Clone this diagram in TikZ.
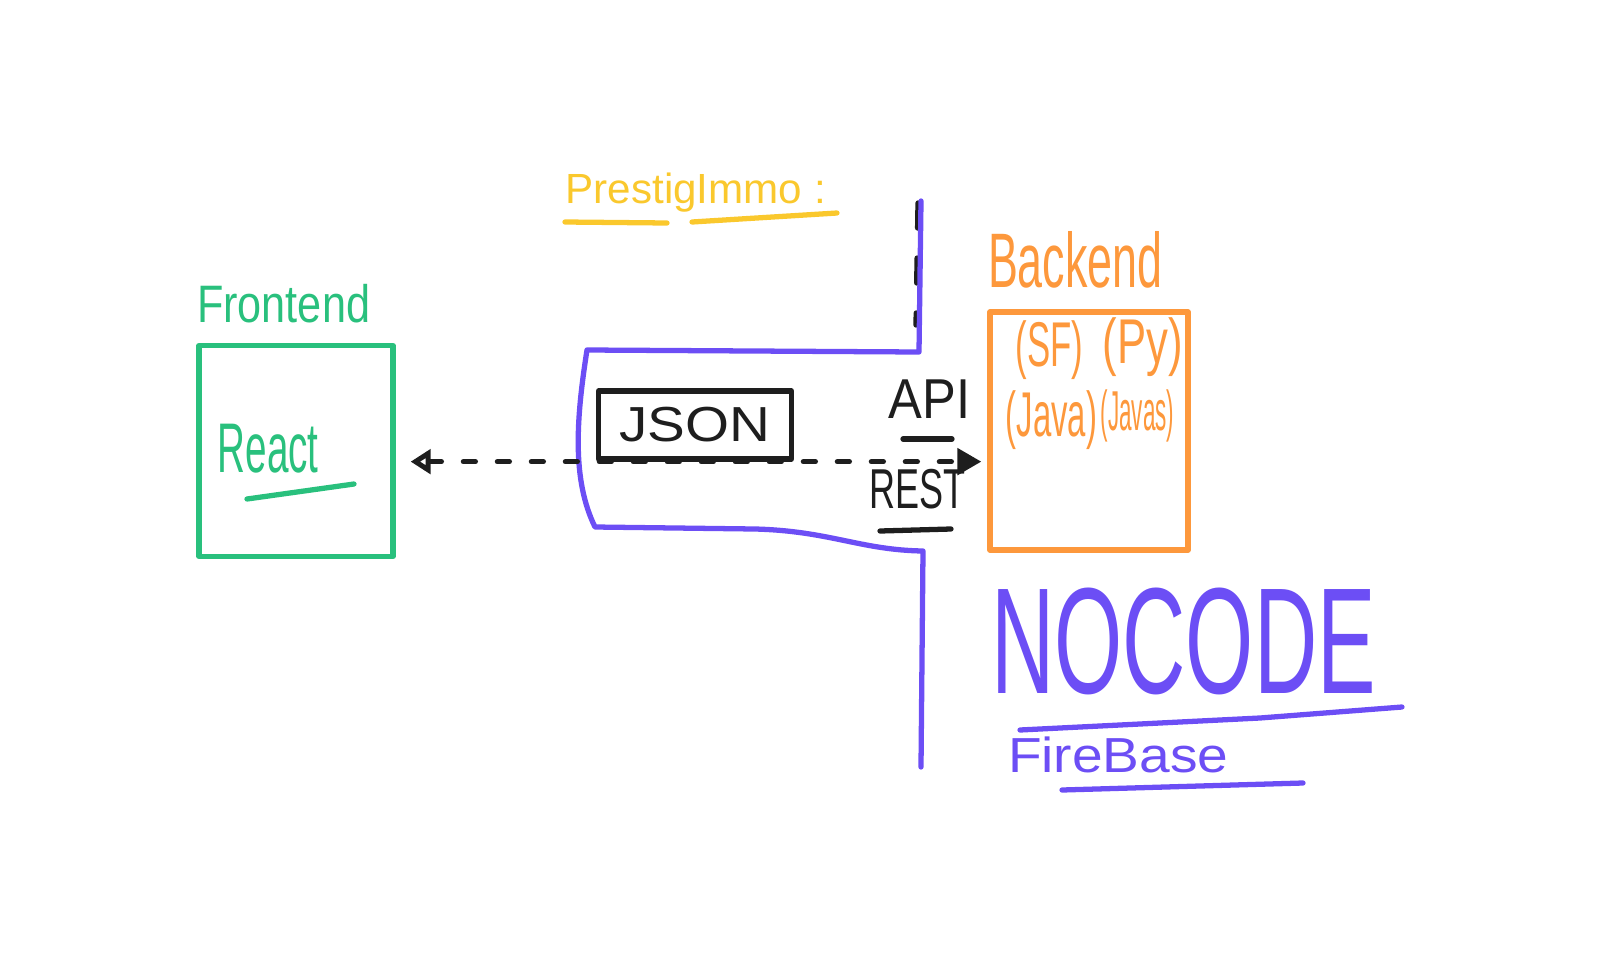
\documentclass[tikz,border=0pt]{standalone}
\usepackage{fontspec}
\setmainfont{Liberation Sans}
\usetikzlibrary{positioning,arrows.meta}
\definecolor{penGreen}{RGB}{41,192,125}
\definecolor{penPurple}{RGB}{108,78,245}
\definecolor{penOrange}{RGB}{253,152,60}
\definecolor{penYellow}{RGB}{250,200,45}
\definecolor{penBlack}{RGB}{30,30,30}
\newcommand{\squash}[2]{\scalebox{#1}[1]{#2}}
\newcommand{\hand}[1]{\fontsize{#1}{#1}\selectfont}

\begin{document}
\begin{tikzpicture}[x=0.1mm,y=-0.1mm,node distance=2mm,
                    pen/.style={line width=1.5pt,line cap=round,line join=round},
                    box/.style={pen,draw,inner sep=0pt},
                    word/.style={anchor=base west,inner sep=0pt}]

  \useasboundingbox (0,0) rectangle (1600,960);

  \draw [pen,penBlack,dash pattern=on 2.5mm off 3mm] (918,203) -- (916,325);
  \draw [pen,penPurple] (921,201) -- (919,352) -- (587,350)
        .. controls (576,420) and (572,480) .. (595,527) -- (755,529)
        .. controls (830,531) and (860,550) .. (923,551) -- (921,767);

  \node [box,penGreen,minimum width=19.4mm,minimum height=21.1mm] (front)
        at (296,451) {};
  \node [word,penGreen,above=of front.north west,anchor=base west] (frontlabel)
        {\hand{15}\squash{0.82}{Frontend}};
  \node [word,penGreen] (react) at (217,472) {\hand{20}\squash{0.55}{React}};
  \draw [pen,penGreen] (247,499) -- (354,484);

  \node [word,penYellow] (title) at (565,203) {\hand{12}PrestigImmo :};
  \draw [pen,penYellow] (565,222) -- (667,223);
  \draw [pen,penYellow] (692,222) -- (837,213);

  \node [box,penBlack,minimum width=19.3mm,minimum height=6.8mm] (json)
        at (695,425) {\raisebox{-1mm}{\hand{14}\squash{1.15}{JSON}}};

  \node [box,penOrange,minimum width=19.8mm,minimum height=23.8mm] (back)
        at (1089,431) {};
  \node [word,penOrange,above=2.2mm of back.north west,anchor=base west] (backlabel)
        {\hand{22}\squash{0.58}{Backend}};
  \node [word,penOrange] (sf) at (1015,366) {\hand{18}\squash{0.55}{(SF)}};
  \node [word,penOrange] (py) at (1102,363) {\hand{18}\squash{0.69}{(Py)}};
  \node [word,penOrange] (java) at (1005,436) {\hand{18}\squash{0.52}{(Java)}};
  \node [word,penOrange] (javas) at (1100,430) {\hand{16}\squash{0.4}{(Javas)}};

  \draw [pen,penBlack,dash pattern=on 1.2mm off 2.2mm,
         {Triangle[open,length=2mm,width=2.4mm]}-{Triangle[length=2.4mm,width=2.6mm]},
         shorten <=1.5mm,shorten >=0.6mm]
        (json.south -| front.east) -- (json.south -| back.west);

  \node [word,penBlack] (api) at (888,418) {\hand{16}\squash{0.9}{API}};
  \draw [pen,penBlack] (903,439) -- (952,439);
  \node [word,penBlack] (rest) at (869,508) {\hand{16}\squash{0.64}{REST}};
  \draw [pen,penBlack] (880,531) -- (951,529);

  \node [word,penPurple,below=3.5mm of back.south west,anchor=north west,xshift=0.3mm]
        (nocode) {\hand{43}\squash{0.58}{NOCODE}};
  \draw [pen,penPurple] (1020,730) -- (1260,718) -- (1402,707);
  \node [word,penPurple,below=4mm of nocode.south west,anchor=north west,xshift=1.7mm]
        (firebase) {\hand{14}\squash{1.12}{FireBase}};
  \draw [pen,penPurple] (1062,790) -- (1303,783);

\end{tikzpicture}
\end{document}
